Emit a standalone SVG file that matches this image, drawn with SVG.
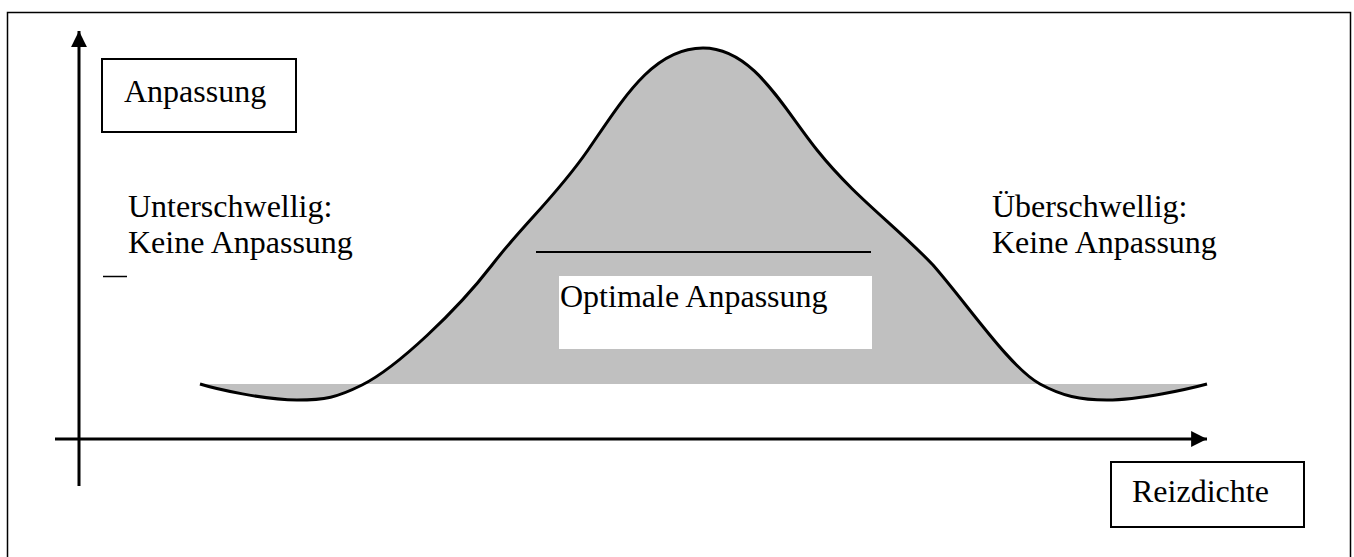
<svg xmlns="http://www.w3.org/2000/svg" width="1354" height="557" viewBox="0 0 1354 557">
<defs>
<style>
.t{font-family:"Liberation Serif","Times New Roman",serif;font-size:32px;fill:#000}
.box{fill:#fff;stroke:#000;stroke-width:2}
.ax{stroke:#000;stroke-width:3;fill:none}
</style>
<marker id="ah" viewBox="0 0 10 10" refX="10" refY="5" markerWidth="5.3" markerHeight="5.3" markerUnits="strokeWidth" orient="auto">
<path d="M0,0 L10,5 L0,10 Z" fill="#000"/>
</marker>
<path id="bell" d="M200,384 C216,389 265,400 297,400 C325,400 337,397.5 362,385 C397,367.5 457,310.5 492,265 C524,223.4 556,196.4 588,150 C623,99.25 653,48 703,48 C753,48 782,106.25 817,150 C855,197.5 895,225 933,265 C968,305 1010,367.5 1040,384 C1062,396 1080,400 1107,400 C1140,400 1190,388.6 1207,384"/>
</defs>
<rect width="1354" height="557" fill="#fff"/>
<path id="frame" d="M7.5,557 V12.5 H1350.5 V557" fill="none" stroke="#000" stroke-width="1.5"/>
<g id="curve">
<path d="M200,384 C216,389 265,400 297,400 C325,400 337,397.5 362,385 C397,367.5 457,310.5 492,265 C524,223.4 556,196.4 588,150 C623,99.25 653,48 703,48 C753,48 782,106.25 817,150 C855,197.5 895,225 933,265 C968,305 1010,367.5 1040,384 C1062,396 1080,400 1107,400 C1140,400 1190,388.6 1207,384 Z" fill="#c0c0c0" stroke="none"/>
<use href="#bell" fill="none" stroke="#000" stroke-width="3"/>
</g>
<g id="connectors">
<line class="ax" x1="79" y1="486" x2="79" y2="31" marker-end="url(#ah)"/>
<line class="ax" x1="55" y1="439" x2="1207" y2="439" marker-end="url(#ah)"/>
<line x1="536" y1="252" x2="871" y2="252" stroke="#000" stroke-width="2"/>
<line x1="103" y1="276.5" x2="127" y2="276.5" stroke="#000" stroke-width="1.5"/>
</g>
<g id="node-anpassung">
<rect class="box" x="102" y="59" width="194" height="73"/>
<text class="t" x="124" y="102">Anpassung</text>
</g>
<g id="node-unterschwellig">
<text class="t" x="128" y="217">Unterschwellig:</text>
<text class="t" x="128" y="253">Keine Anpassung</text>
</g>
<g id="node-optimal">
<rect x="559" y="276" width="313" height="73" fill="#fff"/>
<text class="t" x="560" y="307">Optimale Anpassung</text>
</g>
<g id="node-ueberschwellig">
<text class="t" x="992" y="217">Überschwellig:</text>
<text class="t" x="992" y="253">Keine Anpassung</text>
</g>
<g id="node-reizdichte">
<rect class="box" x="1111" y="462" width="193" height="65"/>
<text class="t" x="1132" y="502">Reizdichte</text>
</g>
</svg>
